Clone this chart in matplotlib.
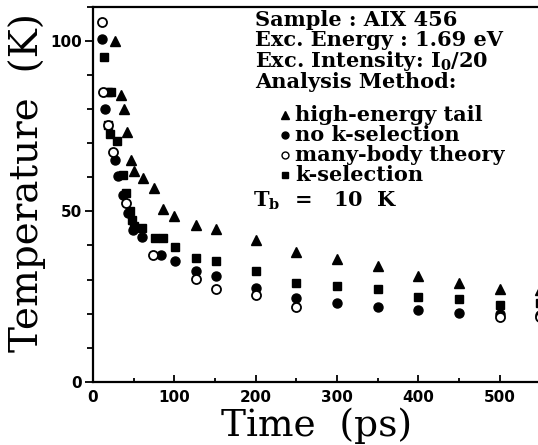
import matplotlib
matplotlib.use("Agg")
import matplotlib.pyplot as plt
from matplotlib.ticker import MultipleLocator

# time (ps) / temperature (K)
# high-energy tail
t_tail = [27, 34, 38, 42, 47, 51, 61, 75, 86, 100, 126, 151,
          200, 250, 300, 350, 400, 450, 500, 550]
T_tail = [100, 84.3, 80, 73.4, 65, 62, 59.7, 56.8, 50.8, 48.5, 45.9, 44.7,
          41.7, 38.2, 36, 34, 30.9, 29.1, 27.2, 27]
# no k-selection
t_nok = [11, 15, 27, 31, 37, 43, 49, 60, 84, 101, 126, 151,
         200, 250, 300, 350, 400, 450, 500, 550]
T_nok = [100.5, 80, 65.2, 60.3, 54.9, 49.5, 44.6, 42.4, 37.3, 35.3, 32.4, 31.1,
         27.5, 24.5, 23, 22, 21.1, 20.3, 19.8, 19.5]
# many-body theory
t_mb = [11, 12, 18.5, 25, 41, 74, 126, 151, 200, 250, 500, 550]
T_mb = [105.7, 85.1, 75.5, 67.4, 52.5, 37.3, 30.2, 27.2, 25.5, 22, 19, 19]
# k-selection
t_k = [14, 18, 22, 19, 21, 29.5, 37, 41, 45, 48, 51, 60, 76, 86, 101, 126, 151,
       200, 250, 300, 350, 400, 450, 500, 550]
T_k = [95.3, 85.1, 85, 75.5, 72.6, 70.8, 60.8, 55.4, 50, 47.6, 45.6, 45.1,
       42.2, 42.2, 39.5, 36.4, 35.3, 32.4, 29.1, 28.1, 27.2, 25, 24.2, 22.6, 23]

header = ["Sample : AIX 456",
          "Exc. Energy : 1.69 eV",
          r"Exc. Intensity: I$_\mathbf{0}$/20",
          "Analysis Method:"]
labels = ["high-energy tail", "no k-selection", "many-body theory", "k-selection"]

plt.rcParams['mathtext.fontset'] = 'dejavuserif'

W, H = 538, 445
fig = plt.figure(figsize=(W / 100, H / 100), dpi=100)
ax = fig.add_axes([93 / W, 1 - 381.7 / H, (W - 93) / W, (381.7 - 7) / H])

ax.plot(t_tail, T_tail, '^', color='black', ms=7)
ax.plot(t_k, T_k, 's', color='black', ms=6)
ax.plot(t_nok, T_nok, 'o', color='black', ms=6.5)
ax.plot(t_mb, T_mb, 'o', mfc='white', mec='black', mew=1.3, ms=6.5)

ax.set_xlim(0, 547)
ax.set_ylim(0, 110)
ax.spines['right'].set_visible(False)
for s in ['left', 'bottom', 'top']:
    ax.spines[s].set_linewidth(1.6)

ax.xaxis.set_major_locator(MultipleLocator(100))
ax.xaxis.set_minor_locator(MultipleLocator(50))
ax.yaxis.set_major_locator(MultipleLocator(50))
ax.yaxis.set_minor_locator(MultipleLocator(10))
ax.tick_params(axis='x', which='both', direction='in', top=False, width=1.3)
ax.tick_params(axis='x', which='major', length=5, pad=6)
ax.tick_params(axis='x', which='minor', length=3)
ax.tick_params(axis='y', which='both', direction='out', right=False, width=1.3)
ax.tick_params(axis='y', which='major', length=6, pad=2)
ax.tick_params(axis='y', which='minor', length=4)
for lab in ax.get_xticklabels() + ax.get_yticklabels():
    lab.set_fontfamily('DejaVu Sans')
    lab.set_fontweight('bold')
    lab.set_fontsize(11)

fig.text(317 / W, 1 - 426 / H, "Time  (ps)", family='DejaVu Serif',
         fontsize=27, ha='center', va='center')
fig.text(27 / W, 1 - 182 / H, "Temperature  (K)", family='DejaVu Serif',
         fontsize=28, rotation=90, ha='center', va='center')

# annotation block
for i, line in enumerate(header):
    fig.text(255 / W, 1 - (20 + 20.5 * i) / H, line, family='DejaVu Serif',
             fontweight='bold', fontsize=15, ha='left', va='center')

mk = [dict(marker='^', color='black', ms=5.5),
      dict(marker='o', color='black', ms=5),
      dict(marker='o', mfc='white', mec='black', mew=1.0, ms=5),
      dict(marker='s', color='black', ms=4.5)]
for i, (lab, m) in enumerate(zip(labels, mk)):
    yy = 1 - (115 + 20 * i) / H
    fig.add_artist(plt.Line2D([285 / W], [yy], transform=fig.transFigure,
                              linestyle='none', **m))
    fig.text(295 / W, yy, lab, family='DejaVu Serif', fontweight='bold',
             fontsize=15, ha='left', va='center')

fig.text(253 / W, 1 - 201 / H, r"T$_\mathbf{b}$  =   10  K", family='DejaVu Serif',
         fontweight='bold', fontsize=15, ha='left', va='center')

fig.savefig("out.png", dpi=100)
